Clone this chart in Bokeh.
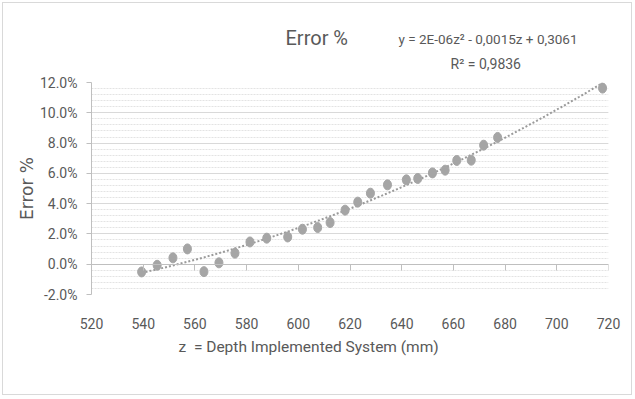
import numpy as np
from bokeh.plotting import figure
from bokeh.models import (SingleIntervalTicker, PrintfTickFormatter, LinearAxis,
                          Title, Range1d)
from bokeh.embed import file_html
from bokeh.resources import INLINE

# ---- data ----
z_mm = [539.4, 545.4, 551.5, 557.1, 563.5, 569.3, 575.5, 581.3, 587.8, 595.9,
        601.6, 607.5, 612.3, 618.1, 623.0, 627.9, 634.5, 641.8, 646.2, 651.9,
        656.8, 661.3, 666.9, 671.7, 677.1, 717.7]
error_pct = [-0.51, -0.07, 0.42, 1.01, -0.49, 0.09, 0.73, 1.47, 1.72, 1.80,
             2.31, 2.42, 2.75, 3.57, 4.10, 4.69, 5.24, 5.57, 5.66, 6.03,
             6.21, 6.85, 6.87, 7.86, 8.37, 11.63]
chart_title = "Error %"
equation_text = "y = 2E-06z\u00b2 - 0,0015z + 0,3061"
r2_text = "R\u00b2 = 0,9836"
x_label = "z \u00a0= Depth Implemented System (mm)"
y_label = "Error %"

# polynomial (order 2) trend line fitted to the data
coef = np.polyfit(z_mm, error_pct, 2)
trend_x = np.linspace(min(z_mm), max(z_mm), 120)
trend_y = np.polyval(coef, trend_x)

TXT = "#595959"
FONT = "Roboto"

p = figure(width=630, height=393, output_backend="svg", toolbar_location=None,
           x_range=Range1d(520, 720), y_range=Range1d(-2, 12),
           min_border_left=88, min_border_top=79, min_border_bottom=102,
           min_border_right=25, title=chart_title,
           styles={"border": "1px solid #d9d9d9", "margin": "2px 0 0 2px"})
p.outline_line_color = None
p.background_fill_color = "white"
p.border_fill_color = "white"

# chart title (outermost; dropped onto the equation row)
p.title.align = "left"
p.title.offset = 194
p.title.standoff = -37
p.title.text_font = FONT
p.title.text_font_style = "normal"
p.title.text_font_size = "20px"
p.title.text_color = TXT

# R² line (closest to the plot)
p.add_layout(Title(text=r2_text, align="left", offset=359, standoff=21,
                   text_font=FONT, text_font_style="normal", text_font_size="14px",
                   text_color=TXT), "above")
# equation line
p.add_layout(Title(text=equation_text, align="left", offset=307, standoff=-6,
                   text_font=FONT, text_font_style="normal", text_font_size="13.5px",
                   text_color=TXT), "above")

# y axis
yt = SingleIntervalTicker(interval=2, num_minor_ticks=5)
p.yaxis.ticker = yt
p.yaxis.formatter = PrintfTickFormatter(format="%.1f%%")
p.yaxis.axis_line_color = "#bfbfbf"
p.yaxis.major_tick_line_color = "#bfbfbf"
p.yaxis.major_tick_in = 0
p.yaxis.major_tick_out = 5
p.yaxis.minor_tick_line_color = None
p.yaxis.major_label_standoff = 9
p.yaxis.major_label_text_font = FONT
p.yaxis.major_label_text_font_size = "14px"
p.yaxis.major_label_text_color = TXT
p.yaxis.axis_label = y_label
p.yaxis.axis_label_text_font = "DejaVu Sans"
p.yaxis.axis_label_text_font_style = "normal"
p.yaxis.axis_label_text_font_size = "17px"
p.yaxis.axis_label_text_color = TXT
p.yaxis.axis_label_standoff = 0

# x axis (tick labels at the bottom of the plot)
xt = SingleIntervalTicker(interval=20, num_minor_ticks=0)
p.xaxis.ticker = xt
p.xaxis.axis_line_color = None
p.xaxis.major_tick_line_color = None
p.xaxis.minor_tick_line_color = None
p.xaxis.major_tick_in = 0
p.xaxis.major_tick_out = 0
p.xaxis.major_label_standoff = 23
p.xaxis.major_label_text_font = FONT
p.xaxis.major_label_text_font_size = "14px"
p.xaxis.major_label_text_color = TXT

# horizontal axis line crossing at 0 %
zero_axis = LinearAxis(fixed_location=0, ticker=SingleIntervalTicker(interval=20, num_minor_ticks=0),
                       axis_line_color="#bfbfbf", major_tick_line_color="#bfbfbf",
                       major_tick_in=0, major_tick_out=6, minor_tick_line_color=None,
                       major_label_text_font_size="0px", major_label_standoff=0)
p.add_layout(zero_axis, "below")

# x axis title (left-shifted like the reference)
p.add_layout(Title(text=x_label, align="left", offset=87, standoff=8,
                   text_font=FONT, text_font_style="normal", text_font_size="15.5px",
                   text_color=TXT), "below")

# grids
p.xgrid.grid_line_color = None
p.ygrid.grid_line_color = "#d9d9d9"
p.ygrid.minor_grid_line_color = "#e3e3e3"
p.ygrid.minor_grid_line_dash = "2 1"

# trend line and points
p.line(trend_x, trend_y, line_color="#9a9a9a", line_width=2, line_dash="2 2")
p.ellipse(x=z_mm, y=error_pct, width=8, height=10, width_units="screen",
          height_units="screen", fill_color="#a5a5a5", line_color="#a5a5a5")

open("out.html", "w").write(file_html(p, INLINE))
